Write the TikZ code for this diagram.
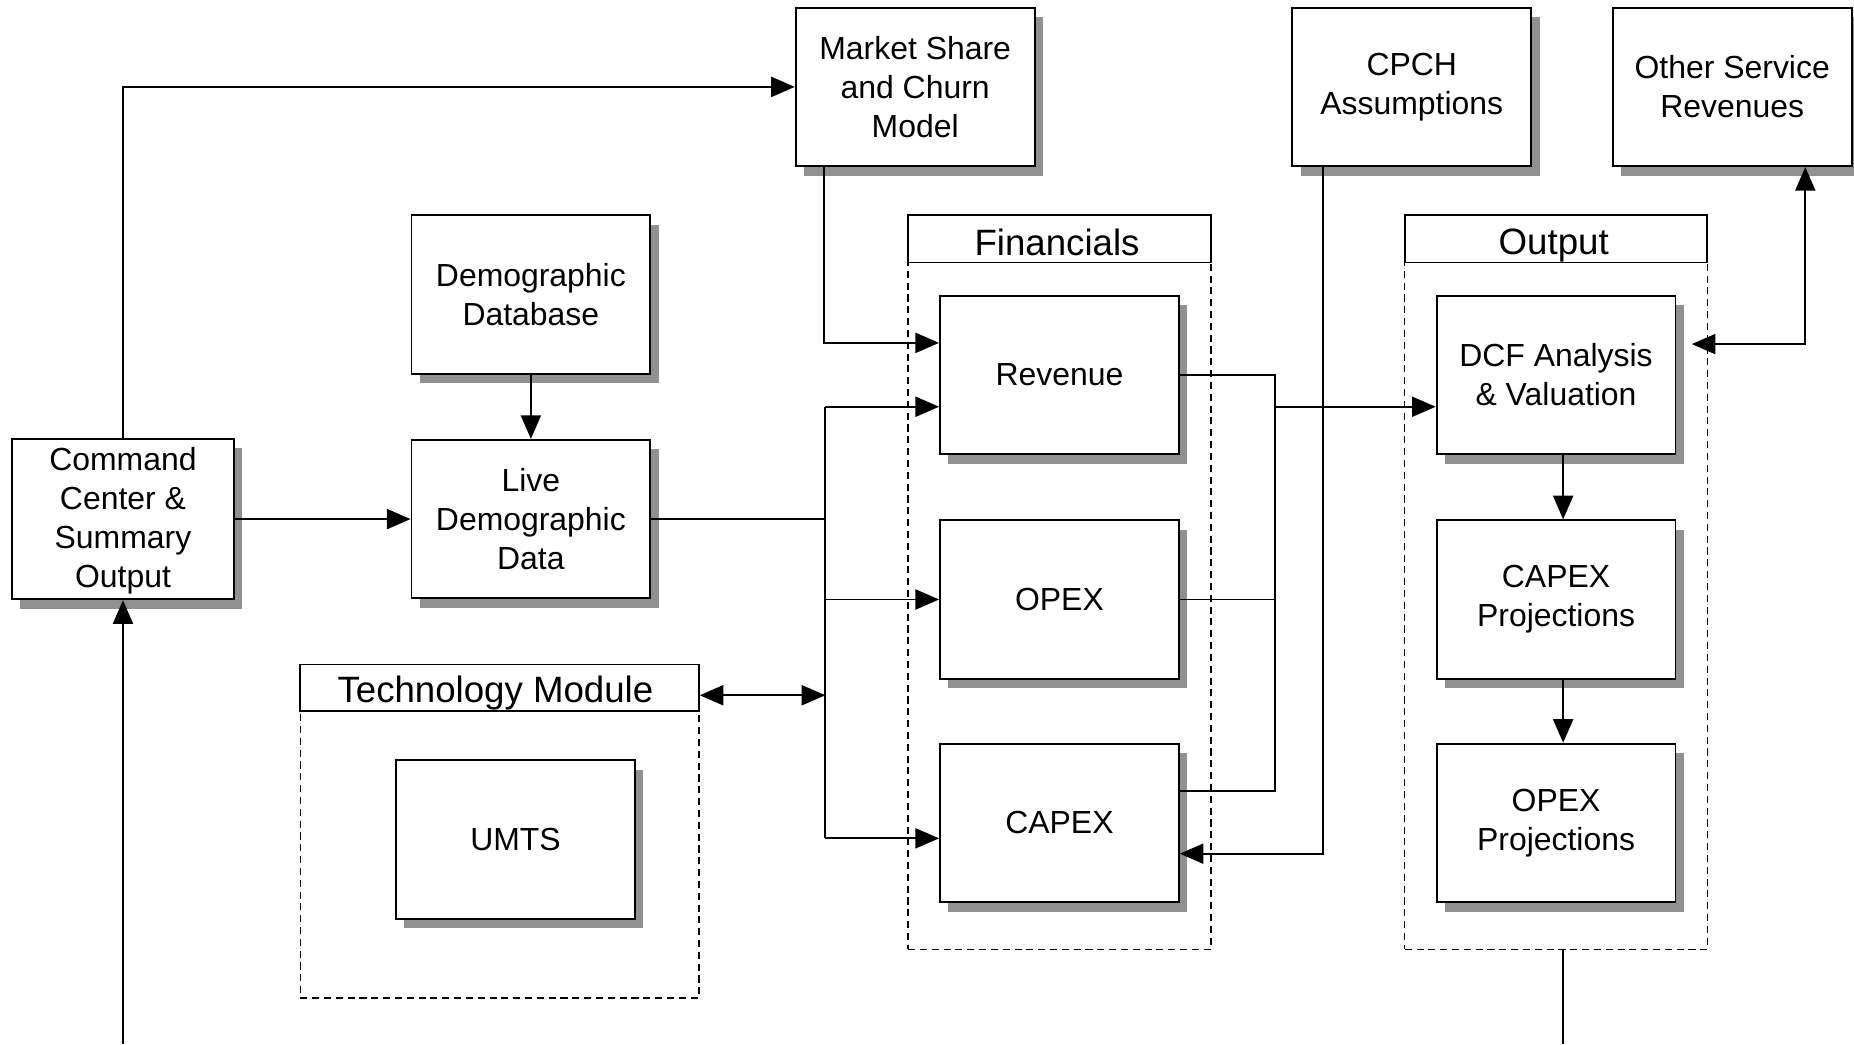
\documentclass[tikz,border=0pt]{standalone}
\usepackage{fontspec}
\setmainfont{Liberation Sans}
\usetikzlibrary{shadows,arrows.meta,calc}
\definecolor{shadowgray}{HTML}{909090}
\begin{document}
\begin{tikzpicture}[x=0.5pt,y=-0.5pt,
  box/.style={draw, line width=0.8pt, fill=white, minimum width=101pt, minimum height=67pt,
    align=center, inner sep=2pt, font=\fontsize{13.5}{16.5}\selectfont,
    drop shadow={shadow xshift=3.5pt, shadow yshift=-4pt, opacity=1, fill=shadowgray}},
  hdr/.style={draw, line width=0.8pt, minimum width=128pt, minimum height=20pt, inner sep=0pt},
  hdrtxt/.style={inner sep=0pt, anchor=base, font=\fontsize{15.5}{18}\selectfont},
  cont/.style={draw, dash pattern=on 3pt off 2pt, line width=0.65pt, inner sep=0pt},
  ln/.style={line width=0.75pt},
  arr/.style={ln, -{Triangle[length=10pt,width=8.5pt]}},
  arrb/.style={ln, {Triangle[length=10pt,width=8.5pt]}-{Triangle[length=10pt,width=8.5pt]}}
]
\useasboundingbox (0,0) rectangle (1568,883);

% containers
\node[cont, minimum width=128pt, minimum height=290.5pt] (finc) at (896,512.5) {};
\node[cont, minimum width=128pt, minimum height=290.5pt] (outc) at (1316,512.5) {};
\node[cont, minimum width=168.5pt, minimum height=121.5pt] (techc) at (422.5,722.5) {};

% headers
\node[hdr] (finh) at (896,202) {};
\node[hdrtxt] (fint) at (894,216) {Financials};
\node[hdr] (outh) at (1316,202) {};
\node[hdrtxt] (outt) at (1314,215) {Output};
\node[hdr, minimum width=168.5pt, minimum height=19.5pt] (techh) at (422.5,581.5) {};
\node[hdrtxt] (techt) at (419,594) {Technology Module};

% boxes
\node[box, minimum width=94pt] (cmd) at (104,439) {\strut Command\\Center \&\\Summary\\Output};
\node[box] (live) at (449,439) {Live\\Demographic\\Data};
\node[box] (demo) at (449,249) {Demographic\\Database};
\node[box] (msc) at (774,73.5) {Market Share\\and Churn\\Model};
\node[box] (cpch) at (1194,73.5) {CPCH\\Assumptions};
\node[box] (osr) at (1465,73.5) {Other Service\\Revenues};
\node[box] (rev) at (896,317) {Revenue};
\node[box] (opex) at (896,507) {OPEX};
\node[box] (capex) at (896,696) {CAPEX};
\node[box] (dcf) at (1316,317) {DCF Analysis\\\& Valuation};
\node[box] (cpro) at (1316,507) {CAPEX\\Projections};
\node[box] (opro) at (1316,696) {OPEX\\Projections};
\node[box] (umts) at (436,710) {UMTS};

% helper coordinates
\coordinate (lTop) at (698,344);
\coordinate (lBot) at (698,709);
\coordinate (bTop) at (1078,317);
\coordinate (bBot) at (1078,669);
\coordinate (cmdB) at (104,883);
\coordinate (outB) at (1322,883);
\coordinate (mscOut) at ($(msc.south west)+(25,0)$);
\coordinate (revIn) at ($(rev.west)+(0,-27)$);
\coordinate (cpchOut) at ($(cpch.south west)+(27,0)$);
\coordinate (capexIn) at ($(capex.east)+(0,26)$);
\coordinate (osrIn) at ($(osr.south east)+(-40,0)$);
\coordinate (dcfOut) at ($(dcf.east)+(13,-26)$);
\coordinate (dcfIn) at ($(dcf.west)+(0,27)$);
\coordinate (techOut) at ($(techh.east)+(0,6.5)$);
\coordinate (dcfOutS) at ($(dcf.south)+(6,0)$);
\coordinate (cproOutS) at ($(cpro.south)+(6,0)$);

% connectors
\draw[arr] (cmd.north) |- (msc.west);
\draw[arr] (cmd.east) -- (live.west);
\draw[arr] (cmdB) -- (cmd.south);
\draw[arr] (demo.south) -- (live.north);
\draw[ln] (live.east) -- (live.east -| lTop);
\draw[ln] (lTop) -- (lBot);
\draw[arr] (lTop) -- (rev.west |- lTop);
\draw[arr] (opex.west -| lTop) -- (opex.west);
\draw[arr] (lBot) -- (capex.west |- lBot);
\draw[arrb] (techOut) -- (techOut -| lTop);
\draw[arr] (mscOut) |- (revIn);
\draw[ln] (rev.east) -- (bTop) -- (bBot) -- (capex.east |- bBot);
\draw[ln] (opex.east) -- (opex.east -| bTop);
\draw[arr] (bTop |- dcfIn) -- (dcfIn);
\draw[arr] (cpchOut) |- (capexIn);
\draw[arrb] (osrIn) |- (dcfOut);
\draw[arr] (dcfOutS) -- (dcfOutS |- cpro.north);
\draw[arr] (cproOutS) -- (cproOutS |- opro.north);
\draw[ln] (outB |- outc.south) -- (outB);
\end{tikzpicture}
\end{document}
